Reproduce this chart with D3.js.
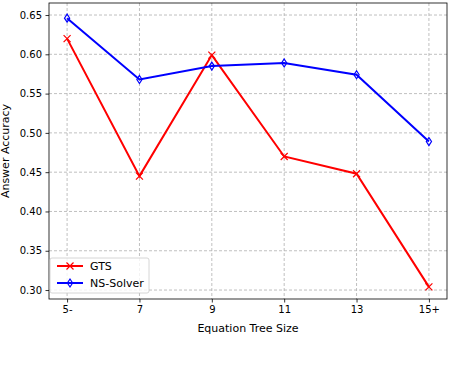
<!DOCTYPE html>
<html>
<head>
<meta charset="utf-8">
<script src="https://cdn.jsdelivr.net/npm/d3@7"></script>
<style>
  body { margin: 0; background: #fff; }
  text { font-family: "DejaVu Sans", sans-serif; }
</style>
</head>
<body>
<svg width="470" height="368"></svg>
<script>
const categories = ["5-", "7", "9", "11", "13", "15+"];
const gtsValues = [0.620, 0.445, 0.599, 0.470, 0.448, 0.304];
const nsValues = [0.646, 0.568, 0.585, 0.589, 0.574, 0.489];
const yTicks = [0.30, 0.35, 0.40, 0.45, 0.50, 0.55, 0.60, 0.65];

const svg = d3.select("svg");
const plotLeft = 49, plotRight = 447, plotTop = 3, plotBottom = 299;

const x = d3.scaleLinear().domain([-0.25, 5.25]).range([plotLeft, plotRight]);
const y = d3.scaleLinear().domain([0.2886, 0.6653]).range([plotBottom, plotTop]);

// grid
const grid = svg.append("g")
  .attr("stroke", "#b0b0b0")
  .attr("stroke-width", 0.8)
  .attr("stroke-dasharray", "3,2");
grid.selectAll(".gx").data(categories).join("line")
  .attr("x1", (d, i) => x(i)).attr("x2", (d, i) => x(i))
  .attr("y1", plotTop).attr("y2", plotBottom);
grid.selectAll(".gy").data(yTicks).join("line")
  .attr("x1", plotLeft).attr("x2", plotRight)
  .attr("y1", d => y(d)).attr("y2", d => y(d));

// axes
const xAxis = d3.axisBottom(x)
  .tickValues(d3.range(categories.length))
  .tickFormat(i => categories[i])
  .tickSize(3.5).tickPadding(3.5);
const yAxis = d3.axisLeft(y)
  .tickValues(yTicks)
  .tickFormat(d3.format(".2f"))
  .tickSize(3.5).tickPadding(3.5);

const gx = svg.append("g").attr("transform", `translate(0,${plotBottom})`).call(xAxis);
const gy = svg.append("g").attr("transform", `translate(${plotLeft},0)`).call(yAxis);
[gx, gy].forEach(g => {
  g.select(".domain").remove();
  g.selectAll("text").attr("font-size", 10).attr("fill", "#000")
    .style("font-family", "DejaVu Sans");
  g.selectAll("line").attr("stroke", "#000").attr("stroke-width", 0.8);
});

// frame
svg.append("rect")
  .attr("x", plotLeft).attr("y", plotTop)
  .attr("width", plotRight - plotLeft).attr("height", plotBottom - plotTop)
  .attr("fill", "none").attr("stroke", "#000").attr("stroke-width", 0.8);

const line = d3.line().x((d, i) => x(i)).y(d => y(d));

function drawSeries(values, color, marker) {
  svg.append("path").datum(values)
    .attr("d", line).attr("fill", "none")
    .attr("stroke", color).attr("stroke-width", 2);
  const g = svg.append("g");
  values.forEach((v, i) => drawMarker(g, x(i), y(v), color, marker));
}

function drawMarker(g, cx, cy, color, marker) {
  if (marker === "x") {
    const s = 3.5;
    g.append("path")
      .attr("d", `M${cx - s},${cy - s}L${cx + s},${cy + s}M${cx - s},${cy + s}L${cx + s},${cy - s}`)
      .attr("stroke", color).attr("stroke-width", 1.2).attr("fill", "none");
  } else {
    const w = 2.6, h = 4;
    g.append("path")
      .attr("d", `M${cx},${cy - h}L${cx + w},${cy}L${cx},${cy + h}L${cx - w},${cy}Z`)
      .attr("stroke", color).attr("stroke-width", 1.2).attr("fill", "none");
  }
}

drawSeries(gtsValues, "#ff0000", "x");
drawSeries(nsValues, "#0000ff", "d");

// labels
svg.append("text")
  .attr("x", (plotLeft + plotRight) / 2).attr("y", 332)
  .attr("text-anchor", "middle").attr("font-size", 11)
  .text("Equation Tree Size");
svg.append("text")
  .attr("transform", `translate(9,${(plotTop + plotBottom) / 2}) rotate(-90)`)
  .attr("text-anchor", "middle").attr("font-size", 11)
  .text("Answer Accuracy");

// legend
const leg = svg.append("g");
leg.append("rect")
  .attr("x", 50).attr("y", 258).attr("width", 99).attr("height", 35)
  .attr("rx", 2).attr("fill", "#fff").attr("fill-opacity", 0.8)
  .attr("stroke", "#cccccc").attr("stroke-width", 0.8);
const items = [
  { name: "GTS", color: "#ff0000", marker: "x" },
  { name: "NS-Solver", color: "#0000ff", marker: "d" }
];
items.forEach((it, i) => {
  const yy = 266 + i * 17;
  leg.append("line").attr("x1", 57).attr("x2", 83).attr("y1", yy).attr("y2", yy)
    .attr("stroke", it.color).attr("stroke-width", 2);
  drawMarker(leg, 70, yy, it.color, it.marker);
  leg.append("text").attr("x", 90).attr("y", yy + 4)
    .attr("font-size", 11).text(it.name);
});
</script>
</body>
</html>
